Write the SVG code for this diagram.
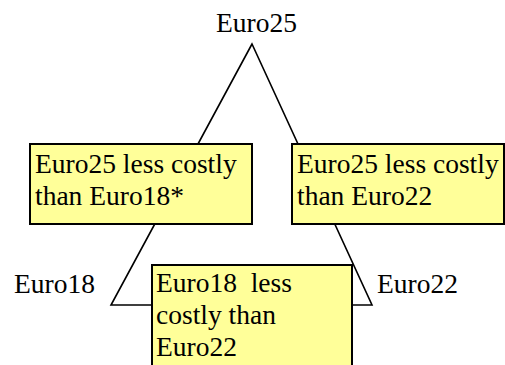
<svg xmlns="http://www.w3.org/2000/svg" width="505" height="365" viewBox="0 0 505 365">
<style>
text{font-family:"Liberation Serif","Times New Roman",serif;font-size:27.5px;fill:#000}
.box{fill:#ffff99;stroke:#000;stroke-width:2}
.edge{fill:none;stroke:#000;stroke-width:1.6}
</style>
<rect width="505" height="365" fill="#fff"/>
<g id="connectors">
<polygon class="edge" points="252,44 111,305 372,305"/>
</g>
<g id="euro25"><text x="216" y="32">Euro25</text></g>
<g id="euro18"><text x="14" y="293">Euro18</text></g>
<g id="euro22"><text x="377" y="293">Euro22</text></g>
<g id="cmp1">
<rect class="box" x="30" y="144" width="222" height="80"/>
<text x="35" y="173">Euro25 less costly</text>
<text x="35" y="205">than Euro18*</text>
</g>
<g id="cmp2">
<rect class="box" x="292" y="144" width="212" height="80"/>
<text x="297" y="173">Euro25 less costly</text>
<text x="297" y="205">than Euro22</text>
</g>
<g id="cmp3">
<rect class="box" x="152" y="265" width="200" height="110"/>
<text x="156" y="292" xml:space="preserve">Euro18  less</text>
<text x="156" y="324">costly than</text>
<text x="156" y="356">Euro22</text>
</g>
</svg>
